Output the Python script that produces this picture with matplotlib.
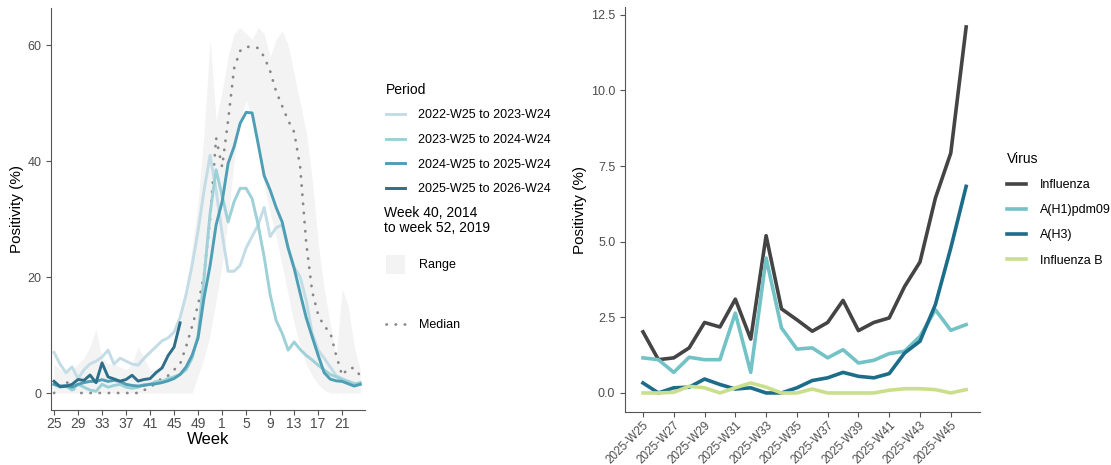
import matplotlib.pyplot as plt
import numpy as np
from matplotlib.lines import Line2D
from matplotlib.patches import Patch

plt.rcParams['font.family'] = ['Liberation Sans', 'DejaVu Sans']

# left panel: season positivity by week (week 25 .. week 24)
weeks = list(range(25, 53)) + list(range(1, 25))
periods = ['2022-W25 to 2023-W24', '2023-W25 to 2024-W24',
           '2024-W25 to 2025-W24', '2025-W25 to 2026-W24']
s2022 = [7, 5, 3.5, 4.5, 2.5, 4, 5, 5.5, 6.2, 7.4, 5, 6, 5.5, 5, 4.8, 6, 7, 8,
         9, 9.5, 10.5, 13, 17, 22, 28, 35, 41, 35, 27.5, 21, 21, 22, 25, 27, 29,
         32, 27, 28.5, 29, 25, 21.7, 20, 16, 10.3, 7.4, 6, 4.5, 3, 2.5, 2, 1.7,
         1.5]
s2023 = [1.5, 1, 1.2, 0.5, 1.5, 1, 0.5, 0.3, 1.5, 1, 1.3, 1.5, 1, 0.8, 1, 1.5,
         1.5, 2, 2, 2.5, 2.8, 3.2, 4, 6, 10, 20, 31, 38.5, 34, 29.5, 33, 35.3,
         35.3, 33.5, 29, 23.5, 17, 12.5, 10.3, 7.4, 8.8, 7.5, 6.5, 5.7, 4.8, 4,
         3.2, 2.8, 2.3, 2, 1.5, 1.8]
s2024 = [1.5, 1.2, 1.3, 1.0, 1.5, 1.8, 2, 2, 2.3, 2.0, 2.2, 2, 1.5, 1.3, 1.2,
         1.3, 1.5, 1.6, 1.8, 2.1, 2.5, 3.2, 4.5, 6.5, 9.5, 16.5, 22, 29, 33,
         39.6, 42.5, 46.5, 48.4, 48.3, 43, 37.5, 35, 32, 29.5, 25, 21.5, 17.2,
         13, 9.7, 6.5, 3.5, 2.4, 2.1, 2, 1.6, 1.2, 1.5]
range_hi = [5, 4, 4, 4, 5, 6, 8, 11, 6, 5, 5, 4.5, 4, 5, 8, 6, 4, 4, 5, 6, 8,
            12, 18, 25, 33, 45, 61, 47, 52, 58, 62, 63, 62, 61, 63, 62, 58, 61,
            62.5, 60, 55, 50, 45, 37, 26, 18, 12, 6, 18, 15, 8, 4]
range_lo = [0] * 24 + [3, 6, 10, 16, 22, 30, 40, 47, 50.5, 47, 42, 36, 31, 27,
                       22, 17, 12, 8, 5, 3, 1.5, 0.5, 0, 0, 0, 0, 0, 0]
median = [0, 1, 2, 1, 0, 0, 0, 0, 0, 0, 0, 0, 0, 0, 0, 0.5, 1, 1.7, 2.6, 3,
          4, 5, 8, 11.5, 15.2, 20.5, 30, 44, 39, 47, 56, 59, 59.7, 59.7, 59.5,
          58, 55.5, 52, 49.5, 47, 45, 39, 26, 17.5, 13.5, 11.5, 10.5, 6.5, 3,
          4.3, 4.3, 3]

# right panel: 2025 weekly positivity by virus
rweeks = ['2025-W%d' % w for w in range(25, 47)]
influenza = [2.02, 1.1, 1.16, 1.49, 2.33, 2.18, 3.1, 1.78, 5.2, 2.78, 2.42,
             2.04, 2.33, 3.06, 2.06, 2.33, 2.48, 3.52, 4.33, 6.44, 7.93, 12.1]
h1 = [1.16, 1.1, 0.68, 1.18, 1.1, 1.1, 2.64, 0.68, 4.46, 2.15, 1.45, 1.49,
      1.16, 1.43, 0.99, 1.08, 1.3, 1.38, 1.87, 2.75, 2.07, 2.26]
h3 = [0.33, 0.0, 0.17, 0.19, 0.46, 0.28, 0.13, 0.17, 0.0, 0.0, 0.17, 0.41,
      0.5, 0.68, 0.55, 0.5, 0.64, 1.32, 1.71, 2.92, 4.79, 6.83]
flu_b = [0, 0, 0.02, 0.22, 0.17, 0, 0.17, 0.33, 0.19, 0, 0, 0.13, 0, 0, 0, 0,
         0.09, 0.14, 0.14, 0.11, 0, 0.11]
# the 2025-26 season line is the same series as the right panel
s2025 = influenza

season_cols = ['#c3dce5', '#9dd1d7', '#4e9fb5', '#2f6f8a']
virus_names = ['Influenza', 'A(H1)pdm09', 'A(H3)', 'Influenza B']
virus_cols = ['#444444', '#72c2c6', '#1b6d8a', '#cadf8c']
axcol = '#555555'
tickcol = '#4d4d4d'
dotted = (0, (0.1, 3.2))

fig = plt.figure(figsize=(11.11, 4.65), dpi=100)
W, H = 1111, 465
axl = fig.add_axes([51 / W, 55 / H, 314 / W, 402 / H])
axr = fig.add_axes([625 / W, 53 / H, 355 / W, 405 / H])


def style(ax):
    for s in ['top', 'right']:
        ax.spines[s].set_visible(False)
    for s in ['left', 'bottom']:
        ax.spines[s].set_color(axcol)
        ax.spines[s].set_linewidth(0.8)
    ax.tick_params(colors=axcol, labelcolor=tickcol, labelsize=9, length=3.5,
                   width=0.8)


x = np.arange(len(weeks))
axl.fill_between(x, range_lo, range_hi, color='#f3f3f3', lw=0)
axl.plot(x, median, color='#888888', lw=2, linestyle=dotted,
         dash_capstyle='round')
for vals, c in zip([s2022, s2023, s2024], season_cols[:3]):
    axl.plot(x, vals, color=c, lw=2.1, solid_joinstyle='round')
axl.plot(np.arange(len(s2025)), s2025, color=season_cols[3], lw=2.1)
axl.set_xlim(-0.5, 51.8)
axl.set_ylim(-2.93, 66.4)
axl.set_yticks([0, 20, 40, 60])
axl.set_xticks(x[::4])
axl.set_xticklabels([str(w) for w in weeks[::4]])
axl.set_xlabel('Week', fontsize=12, labelpad=1)
axl.set_ylabel('Positivity (%)', fontsize=11, labelpad=2)
style(axl)
axl.tick_params(axis='x', labelsize=10, pad=1.5)

xr = np.arange(len(rweeks))
for vals, c in zip([influenza, h1, h3, flu_b], virus_cols):
    axr.plot(xr, vals, color=c, lw=2.6)
axr.set_xlim(-1.17, 21.9)
axr.set_ylim(-0.63, 12.76)
axr.set_yticks([0, 2.5, 5, 7.5, 10, 12.5])
axr.set_yticklabels(['0.0', '2.5', '5.0', '7.5', '10.0', '12.5'])
axr.set_xticks(xr[::2])
axr.set_xticklabels(rweeks[::2], rotation=45, ha='right',
                    rotation_mode='anchor')
axr.set_ylabel('Positivity (%)', fontsize=11, labelpad=3)
style(axr)
axr.tick_params(axis='x', labelsize=8.5, pad=1.5)

# legends
leg_kw = dict(frameon=False, fontsize=9, title_fontsize=10, handlelength=1.5,
              handletextpad=1.1, alignment='left', borderaxespad=0)
h_per = [Line2D([], [], color=c, lw=2.1) for c in season_cols]
fig.legend(h_per, periods, title='Period', loc='upper left',
           bbox_to_anchor=(381 / W, 1 - 78 / H), labelspacing=1.0, **leg_kw)
fig.text(384 / W, 1 - 206 / H, 'Week 40, 2014\nto week 52, 2019',
         fontsize=10, va='top', ha='left', linespacing=1.1)
fig.legend([Patch(facecolor='#f3f3f3', edgecolor='none')], ['Range'],
           loc='upper left', bbox_to_anchor=(381 / W, 1 - 250 / H),
           handleheight=1.9, **leg_kw)
fig.legend([Line2D([], [], color='#888888', lw=2, linestyle=dotted,
                   dash_capstyle='round')], ['Median'], loc='upper left',
           bbox_to_anchor=(381 / W, 1 - 314 / H), **leg_kw)
h_vir = [Line2D([], [], color=c, lw=2.6) for c in virus_cols]
fig.legend(h_vir, virus_names, title='Virus', loc='upper left',
           bbox_to_anchor=(1002 / W, 1 - 147 / H), labelspacing=1.05,
           **leg_kw)

fig.savefig('out.png', dpi=100)
